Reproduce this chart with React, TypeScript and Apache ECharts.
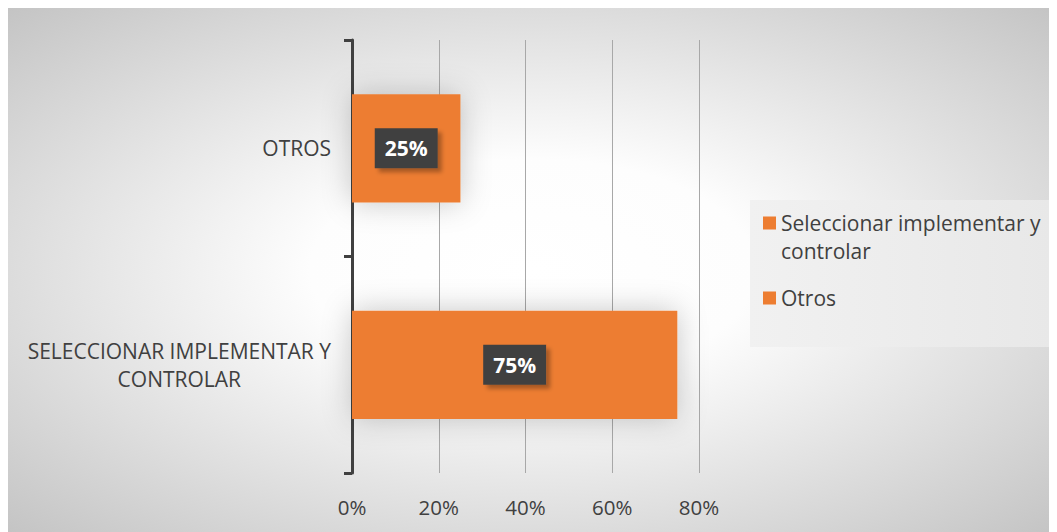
import React, { useEffect, useRef } from "react";
import * as echarts from "echarts";

const categories = ["SELECCIONAR IMPLEMENTAR Y CONTROLAR", "OTROS"];
const seriesNames = ["Seleccionar implementar y controlar", "Otros"];
const values = [75, 25];
const xMax = 80;
const xInterval = 20;

const FONT = "'Open Sans', Lato, sans-serif";
const ORANGE = "#ED7D31";
const DARK = "#404040";

function wrap(text: string, maxChars: number): string[] {
  const words = text.split(" ");
  const lines: string[] = [];
  let cur = "";
  for (const w of words) {
    const next = cur ? cur + " " + w : w;
    if (next.length > maxChars && cur) {
      lines.push(cur);
      cur = w;
    } else cur = next;
  }
  if (cur) lines.push(cur);
  return lines;
}

export default function App() {
  const ref = useRef<HTMLDivElement>(null);
  useEffect(() => {
    if (!ref.current) return;
    const chart = echarts.init(ref.current, undefined, { renderer: "svg" });
    const series = seriesNames.map((name, i) => ({
      name,
      type: "bar",
      stack: "total",
      barWidth: "50%",
      data: categories.map((_, j) => (j === i ? values[i] : "-")),
      itemStyle: {
        color: ORANGE,
        shadowBlur: 30,
        shadowColor: "rgba(0,0,0,0.22)",
      },
      label: {
        show: true,
        position: "inside",
        formatter: "{c}%",
        color: "#ffffff",
        fontFamily: FONT,
        fontWeight: "bold",
        fontSize: 21,
        backgroundColor: DARK,
        padding: [10, 10, 9, 10],
        shadowColor: "rgba(0,0,0,0.3)",
        shadowBlur: 4,
        shadowOffsetX: 4,
        shadowOffsetY: 4,
      },
    }));
    chart.setOption({
      animation: false,
      textStyle: { fontFamily: FONT },
      grid: { left: 344, top: 32, width: 347, height: 433, containLabel: false },
      xAxis: {
        type: "value",
        min: 0,
        max: xMax,
        interval: xInterval,
        axisLine: { show: false },
        axisTick: { show: false },
        axisLabel: {
          formatter: "{value}%",
          color: DARK,
          fontSize: 20.5,
          fontFamily: FONT,
          margin: 23,
        },
        splitLine: { show: true, lineStyle: { color: "#a8a8a8", width: 1 } },
      },
      yAxis: {
        type: "category",
        data: categories,
        axisLine: { show: true, lineStyle: { color: DARK, width: 3 } },
        axisTick: { show: true, length: 8, lineStyle: { color: DARK, width: 3 } },
        axisLabel: {
          margin: 21,
          color: DARK,
          fontSize: 21,
          fontFamily: FONT,
          formatter: (v: string) =>
            wrap(v, 26)
              .map((l) => "{c|" + l + "}")
              .join("\n"),
          rich: {
            c: { align: "center", color: DARK, fontSize: 21, fontFamily: FONT, lineHeight: 28.5 },
          },
        },
      },
      legend: {
        orient: "vertical",
        left: 755,
        top: 173,
        padding: 0,
        icon: "rect",
        itemWidth: 13,
        itemHeight: 13,
        itemGap: 19,
        textStyle: {
          color: DARK,
          fontSize: 21,
          fontFamily: FONT,
          lineHeight: 28,
          rich: { t: { color: DARK, fontSize: 21, fontFamily: FONT, lineHeight: 28 } },
        },
        formatter: (name: string) =>
          wrap(name, 26)
            .map((l) => "{t|" + l + "}")
            .join("\n"),
        data: seriesNames.map((name) => ({
          name,
          textStyle: { padding: [(wrap(name, 26).length - 1) * 28, 0, 0, 0] },
        })),
      },
      graphic: [
        {
          type: "rect",
          left: 742,
          top: 192,
          z: -1,
          shape: { width: 300, height: 147 },
          style: {
            fill: new echarts.graphic.LinearGradient(0, 0, 1, 0, [
              { offset: 0, color: "#f1f1f1" },
              { offset: 1, color: "#e8e8e8" },
            ]),
          },
        },
      ],
      series,
    });
    return () => chart.dispose();
  }, []);
  return (
    <div
      ref={ref}
      style={{
        width: 1049,
        height: 524,
        background:
          "radial-gradient(ellipse farthest-corner at 50% 50%, #ffffff 0%, #fdfdfd 30%, #c4c4c4 100%)",
      }}
    />
  );
}
